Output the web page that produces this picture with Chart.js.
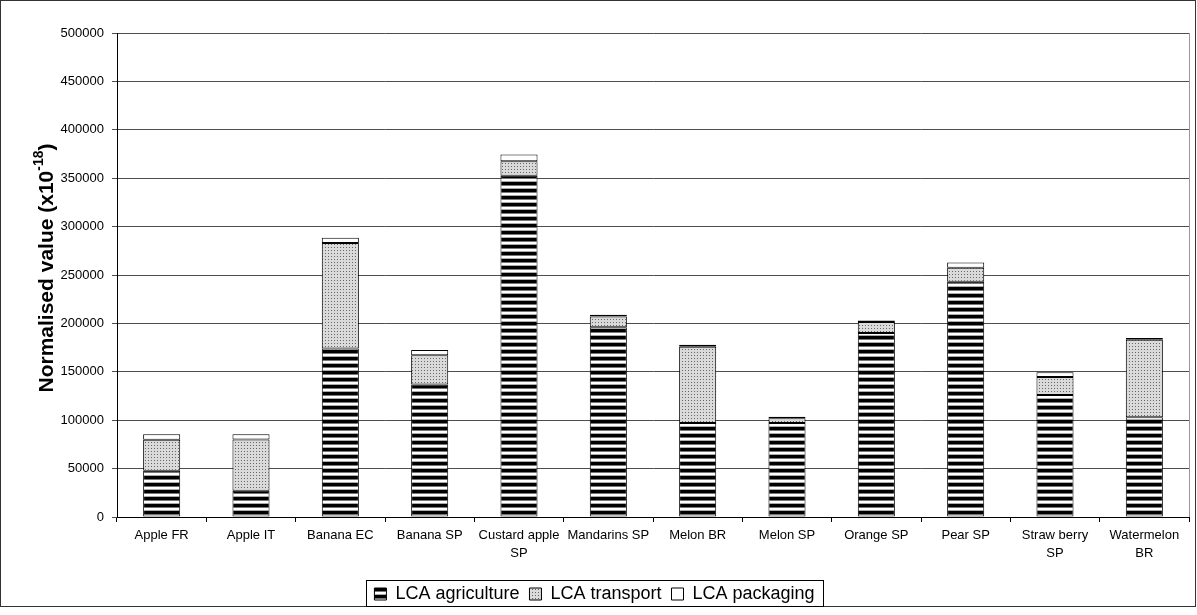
<!DOCTYPE html>
<html>
<head>
<meta charset="utf-8">
<script src="https://cdn.jsdelivr.net/npm/chart.js@4.4.0/dist/chart.umd.min.js"></script>
<style>
  html, body { margin: 0; padding: 0; background: #fff; }
  #wrap { width: 1197px; height: 615px; }
</style>
</head>
<body>
<div id="wrap"><canvas id="lca-chart" width="1197" height="615"></canvas></div>
<script>
const categories = ['Apple FR', 'Apple IT', 'Banana EC', 'Banana SP', ['Custard apple', 'SP'], 'Mandarins SP',
    'Melon BR', 'Melon SP', 'Orange SP', 'Pear SP', ['Straw berry', 'SP'], ['Watermelon', 'BR']];
const lcaAgriculture = [47800, 27000, 174000, 137000, 352500, 196000, 97000, 97000, 190000, 243000, 126000, 103000];
const lcaTransport = [32000, 53000, 109000, 30000, 15000, 11000, 79000, 5000, 11500, 14500, 18500, 80000];
const lcaPackaging = [5700, 5500, 5500, 5500, 7000, 2000, 2000, 1500, 1500, 5500, 5000, 2000];
const seriesNames = ['LCA agriculture', 'LCA transport', 'LCA packaging'];
const yMin = 0;
const yMax = 500000;
const yStep = 50000;
const yTitleMain = 'Normalised value (x10';
const yTitleSup = '-18';
const yTitleEnd = ')';

const plainFont = "'Liberation Sans', Arial, sans-serif";

// horizontal black/white stripes for agriculture
function stripePattern() {
    const c = document.createElement('canvas');
    c.width = 4; c.height = 7;
    const g = c.getContext('2d');
    const rows = ['#000', '#000', '#000', '#777', '#fff', '#fff', '#aaa'];
    rows.forEach((col, i) => { g.fillStyle = col; g.fillRect(0, i, 4, 1); });
    return g.createPattern(c, 'repeat');
}
// grey stipple for transport
function dotPattern() {
    const c = document.createElement('canvas');
    c.width = 3; c.height = 3;
    const g = c.getContext('2d');
    g.fillStyle = '#dadada';
    g.fillRect(0, 0, 3, 3);
    g.fillStyle = '#666';
    g.fillRect(1, 1, 1, 1);
    return g.createPattern(c, 'repeat');
}

const framePlugin = {
    id: 'frame',
    afterDraw(chart) {
        const ctx = chart.ctx;
        const area = chart.chartArea;
        ctx.save();
        // outer chart border
        ctx.strokeStyle = '#333';
        ctx.lineWidth = 1;
        ctx.strokeRect(0.5, 0.5, 1195, 606);
        // plot area right edge
        ctx.strokeStyle = '#999';
        ctx.beginPath();
        ctx.moveTo(Math.round(area.right) + 0.5, area.top);
        ctx.lineTo(Math.round(area.right) + 0.5, area.bottom);
        ctx.stroke();
        // legend box
        const boxes = chart.legend.legendHitBoxes;
        if (boxes && boxes.length) {
            let l = Infinity, r = -Infinity, t = Infinity, b = -Infinity;
            boxes.forEach(h => {
                l = Math.min(l, h.left); r = Math.max(r, h.left + h.width);
                t = Math.min(t, h.top); b = Math.max(b, h.top + h.height);
            });
            ctx.strokeStyle = '#000';
            ctx.strokeRect(Math.round(l - 8) + 0.5, Math.round(t - 5) + 0.5, Math.round(r - l + 17), Math.round(b - t + 8));
        }
        // y axis title with superscript
        ctx.fillStyle = '#000';
        ctx.translate(47, (area.top + area.bottom) / 2 - 7);
        ctx.rotate(-Math.PI / 2);
        const big = 'bold 21px ' + plainFont;
        const small = 'bold 14px ' + plainFont;
        ctx.font = big;
        const w1 = ctx.measureText(yTitleMain).width;
        const w3 = ctx.measureText(yTitleEnd).width;
        ctx.font = small;
        const w2 = ctx.measureText(yTitleSup).width;
        let x = -(w1 + w2 + w3) / 2;
        ctx.textBaseline = 'middle';
        ctx.textAlign = 'left';
        ctx.font = big;
        ctx.fillText(yTitleMain, x, 0);
        x += w1;
        ctx.font = small;
        ctx.fillText(yTitleSup, x, -8);
        x += w2;
        ctx.font = big;
        ctx.fillText(yTitleEnd, x, 0);
        ctx.restore();
    }
};

document.addEventListener('DOMContentLoaded', function(){
    const ctx = document.getElementById('lca-chart').getContext('2d');
    const fills = [stripePattern(), dotPattern(), '#fff'];
    const values = [lcaAgriculture, lcaTransport, lcaPackaging];

    new Chart(ctx, {
        type: 'bar',
        data: {
            labels: categories,
            datasets: seriesNames.map((name, i) => ({
                label: name,
                data: values[i],
                backgroundColor: fills[i],
                borderColor: '#000',
                borderWidth: 1,
                borderSkipped: false,
                barPercentage: 0.415,
                categoryPercentage: 1
            }))
        },
        options: {
            responsive: false,
            animation: false,
            devicePixelRatio: 1,
            layout: { padding: { top: 33, right: 8, left: 0, bottom: 2 } },
            plugins: {
                legend: {
                    position: 'bottom',
                    labels: {
                        font: { family: plainFont, size: 18 },
                        color: '#000',
                        boxWidth: 12,
                        boxHeight: 12,
                        padding: 10
                    }
                },
                tooltip: { enabled: false }
            },
            scales: {
                x: {
                    stacked: true,
                    grid: { display: true, drawOnChartArea: false, color: '#000', tickLength: 5 },
                    border: { color: '#000' },
                    ticks: {
                        font: { family: plainFont, size: 13, lineHeight: 1.4 },
                        color: '#000',
                        maxRotation: 0,
                        autoSkip: false,
                        padding: 4
                    },
                    afterFit(scale) {
                        const lh = scale.chart.legend && scale.chart.legend.height ? scale.chart.legend.height : 40;
                        scale.height = 615 - 2 - lh - 517;
                    }
                },
                y: {
                    stacked: true,
                    min: yMin,
                    max: yMax,
                    grid: { color: '#4d4d4d', tickLength: 5 },
                    border: { color: '#000' },
                    ticks: {
                        stepSize: yStep,
                        font: { family: plainFont, size: 13 },
                        color: '#000',
                        padding: 8,
                        callback: v => String(v)
                    },
                    afterFit(scale) { scale.width = 117; }
                }
            }
        },
        plugins: [framePlugin]
    });
});
</script>
</body>
</html>
